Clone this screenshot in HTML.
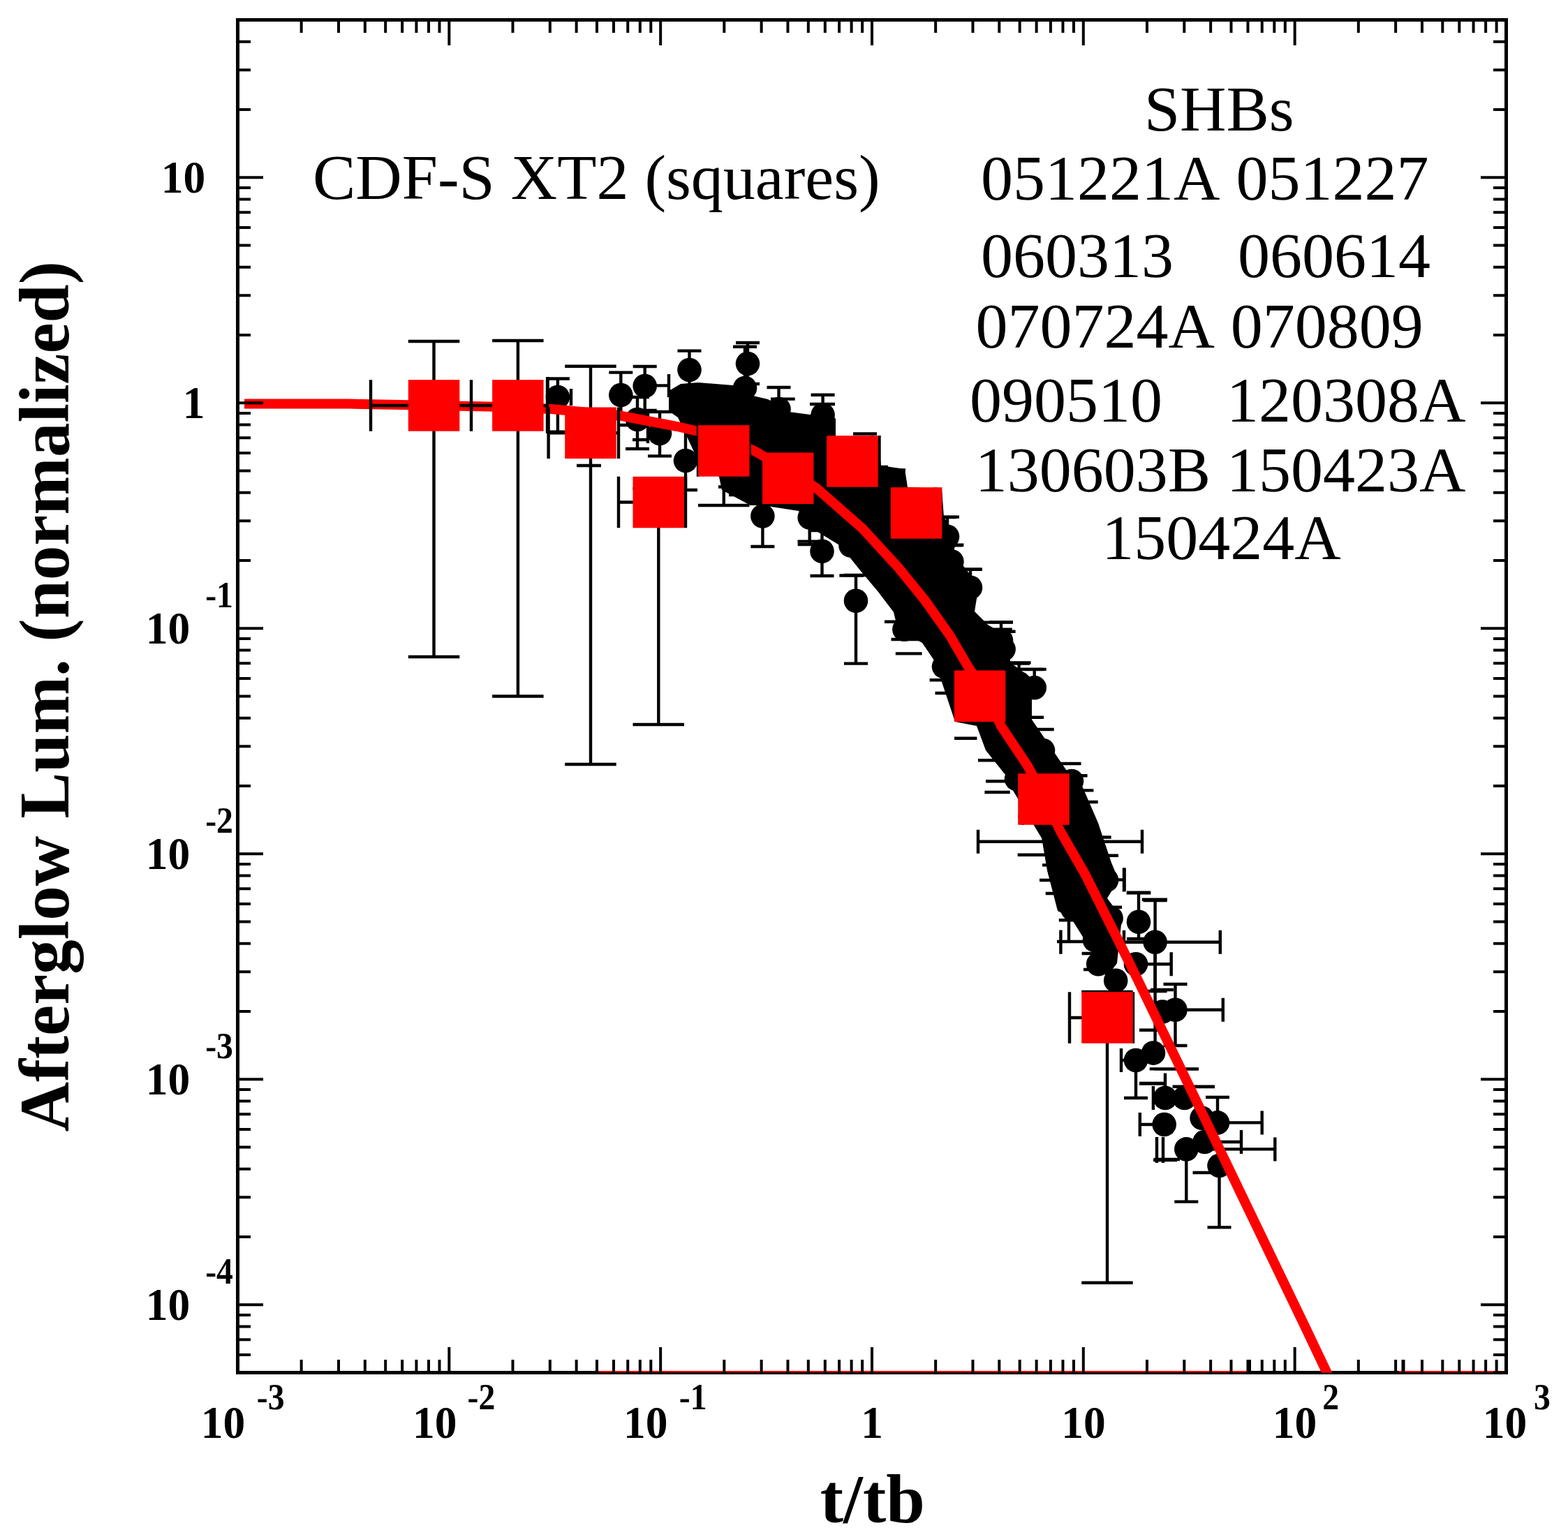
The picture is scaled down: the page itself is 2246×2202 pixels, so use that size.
<!DOCTYPE html>
<html><head><meta charset="utf-8"><title>Afterglow luminosity plot</title>
<style>html,body{margin:0;padding:0;background:#fff;overflow:hidden;}svg{display:block;}</style></head>
<body><svg width="2246" height="2202" viewBox="0 0 2246 2202" font-family="'Liberation Serif','Times New Roman',serif">
<rect width="2246" height="2202" fill="#fff"/>
<rect x="340.5" y="28.5" width="1817.0" height="1938.0" fill="none" stroke="#000" stroke-width="5"/>
<defs><clipPath id="pc"><rect x="340.5" y="28.5" width="1817.0" height="1938.0"/></clipPath></defs>
<g clip-path="url(#pc)">
<path d="M1142.5 775.6H1180M1202.4 824.5H1237M1267 890.7H1295M1276.5 916H1333M1282.8 936.4H1320.6M1331.6 974.2H1361.6M1339.5 993H1368M1367 1057.7H1399.4M1401 1089.2H1431M1412 1119.2H1440.4M1410.4 1135H1446.7M1457.7 1224.7H1497M1489 1261H1506.5M1497.7 1280H1516M1493 1239.4H1510M1516.8 1318.2H1552M1531 1319.5V1347M1553.5 1319.5V1347M1514 1349H1555M1519.4 1332.6V1366.8M1549.6 1366H1570M1552 1389H1575M1352 741H1370M1358 781.3H1379M1377 815.7H1405.7M1399.4 891.6H1450.8M1405.7 901.7H1449.8M1450 950.6H1475M1450 959H1495M1478 1027.8H1495M1478 1045H1509.7M1506.5 1094H1548.5M1525.5 1111.3H1557.6M1541 1132.4H1566.4M1541 1149H1572.7M1566.4 1199.5H1591.6M1572.7 1225.7H1601M1613.7 1279.3H1648.4M1635.8 1288.7H1672M1610.6 1243.6V1276.8M1585 1299.8H1607M1585 1225.7H1602M1648 1418H1681M1632 1475.7H1660M1646.7 1531.4H1716.3M1632 1552H1667.8M1712.4 1557H1740M1652 1662H1686M1708.5 1680H1744M1654.6 1349.7V1515M1669 1537.5V1572M1653 1531.5H1717M1632 1552.5H1670M1713 1556.7H1740M1653 1661H1690M1657 1629V1666M1666 1629V1666M1710 1680H1745M939 552.4H958M826 667H861M818 557V581M884 609H899M906 630H927M928 587V635M784.5 540V584M958 536V569M1160 579H1196M1222 621.5H1256M1259.5 624V667M1261 669H1272M1261 673.5H1297M1030 600H1065M1029 697.5H1051M1044 709H1056M1104 571.6H1138.7" stroke="#000" stroke-width="4.4" fill="none"/>
<path d="M798.9 569.0V542.5M781.9 542.5h34.0M798.9 569.0V618.7M781.9 618.7h34.0M889.3 566.0V533.6M872.3 533.6h34.0M889.3 566.0V600.0M872.3 600.0h34.0M923.7 553.0V525.0M906.7 525.0h34.0M923.7 553.0V588.0M906.7 588.0h34.0M913.0 601.0V569.0M896.0 569.0h34.0M913.0 601.0V643.0M896.0 643.0h34.0M945.0 621.0V590.0M928.0 590.0h34.0M945.0 621.0V653.4M928.0 653.4h34.0M987.5 530.0V502.6M970.5 502.6h34.0M987.5 530.0V560.0M970.5 560.0h34.0M982.0 660.0V609.0M965.0 609.0h34.0M982.0 660.0V702.0M965.0 702.0h34.0M1071.0 521.0V491.0M1054.0 491.0h34.0M1071.0 521.0V550.0M1054.0 550.0h34.0M1067.0 556.0V496.8M1050.0 496.8h34.0M1067.0 556.0V590.0M1050.0 590.0h34.0M1115.5 586.0V555.0M1098.5 555.0h34.0M1115.5 586.0V620.0M1098.5 620.0h34.0M1178.6 594.5V565.7M1161.6 565.7h34.0M1178.6 594.5V630.0M1161.6 630.0h34.0M1092.4 739.4V700.0M1075.4 700.0h34.0M1092.4 739.4V783.0M1075.4 783.0h34.0M1159.7 741.5V710.0M1142.7 710.0h34.0M1159.7 741.5V780.0M1142.7 780.0h34.0M1177.5 789.8V760.0M1160.5 760.0h34.0M1177.5 789.8V825.0M1160.5 825.0h34.0M1226.0 860.7V824.0M1209.0 824.0h34.0M1226.0 860.7V950.6M1209.0 950.6h34.0M1357.0 768.8V740.6M1340.0 740.6h34.0M1363.4 804.5V780.8M1346.4 780.8h34.0M1390.0 841.8V815.8M1373.0 815.8h34.0M1434.0 917.5V891.4M1417.0 891.4h34.0M1437.6 930.0V904.8M1420.6 904.8h34.0M1459.6 978.9V949.4M1442.6 949.4h34.0M1481.7 985.2V958.9M1464.7 958.9h34.0M1631.0 1320.8V1278.8M1614.0 1278.8h34.0M1631.0 1320.8V1345.0M1614.0 1345.0h34.0M1654.6 1349.7V1290.0M1637.6 1290.0h34.0M1654.6 1349.7V1420.0M1637.6 1420.0h34.0M1654.6 1349.7H1610.0M1610.0 1332.7v34.0M1654.6 1349.7H1747.8M1747.8 1332.7v34.0M1627.0 1381.2H1677.7M1677.7 1364.2v34.0M1583.7 1260.4H1610.0M1610.0 1243.4v34.0M1683.5 1446.8V1410.0M1666.5 1410.0h34.0M1683.5 1446.8V1498.0M1666.5 1498.0h34.0M1683.5 1446.8H1751.8M1751.8 1429.8v34.0M1627.0 1519.0V1573.0M1610.0 1573.0h34.0M1627.0 1519.0H1606.0M1606.0 1502.0v34.0M1669.0 1572.9H1651.9M1651.9 1555.9v34.0M1696.6 1572.9V1556.7M1679.6 1556.7h34.0M1667.7 1611.0H1632.8M1632.8 1594.0v34.0M1744.0 1608.4V1572.0M1727.0 1572.0h34.0M1744.0 1608.4H1807.7M1807.7 1591.4v34.0M1725.5 1636.0H1778.0M1778.0 1619.0v34.0M1699.3 1646.4V1721.6M1682.3 1721.6h34.0M1699.3 1646.4H1826.3M1826.3 1629.4v34.0M1746.5 1670.0V1758.4M1729.5 1758.4h34.0M1515.0 1205.8H1401.0M1401.0 1188.8v34.0M1515.0 1205.8H1636.0M1636.0 1188.8v34.0" stroke="#000" stroke-width="4.4" fill="none"/>
<polygon points="958,560 975,550 1000,548 1050,552 1070,565 1100,572 1130,590 1160,594 1180,585 1197,600 1197,625 1258,630 1262,667 1296,672 1300,698 1349,700 1352,741 1371,769 1365,795 1377,807 1402,839 1396,876 1415,895 1447,914 1447,949 1494,984 1478,1002 1478,1031 1506,1072 1532,1110 1547,1119 1573,1179 1592,1236 1602,1260 1586,1287 1607,1315 1600,1380 1585,1400 1554,1347 1534,1315 1515,1305 1500,1247 1492,1200 1494,1204 1447,1126 1440,1110 1412,1075 1399,1040 1368,1034 1346,968 1340,949 1321,921 1286,902 1280,877 1258,848 1232,817 1204,782 1163,757 1144,732 1092,724 1075,724 1034,702 1030,683 1000,660 971,598 958,589" fill="#000"/>
<g fill="#000"><circle cx="798.9" cy="569.0" r="17.3"/><circle cx="889.3" cy="566.0" r="17.3"/><circle cx="923.7" cy="553.0" r="17.3"/><circle cx="913.0" cy="601.0" r="17.3"/><circle cx="945.0" cy="621.0" r="17.3"/><circle cx="987.5" cy="530.0" r="17.3"/><circle cx="982.0" cy="660.0" r="17.3"/><circle cx="1071.0" cy="521.0" r="17.3"/><circle cx="1067.0" cy="556.0" r="17.3"/><circle cx="1115.5" cy="586.0" r="17.3"/><circle cx="1178.6" cy="594.5" r="17.3"/><circle cx="1092.4" cy="739.4" r="17.3"/><circle cx="1159.7" cy="741.5" r="17.3"/><circle cx="1177.5" cy="789.8" r="17.3"/><circle cx="1218.5" cy="781.4" r="17.3"/><circle cx="1226.0" cy="860.7" r="17.3"/><circle cx="1295.4" cy="901.7" r="17.3"/><circle cx="1281.5" cy="693.2" r="17.3"/><circle cx="1357.0" cy="768.8" r="17.3"/><circle cx="1363.4" cy="804.5" r="17.3"/><circle cx="1352.0" cy="955.0" r="17.3"/><circle cx="1390.0" cy="841.8" r="17.3"/><circle cx="1434.0" cy="917.5" r="17.3"/><circle cx="1437.6" cy="930.0" r="17.3"/><circle cx="1459.6" cy="978.9" r="17.3"/><circle cx="1481.7" cy="985.2" r="17.3"/><circle cx="1427.8" cy="1062.4" r="17.3"/><circle cx="1494.0" cy="1075.0" r="17.3"/><circle cx="1456.0" cy="1116.0" r="17.3"/><circle cx="1535.0" cy="1119.0" r="17.3"/><circle cx="1553.8" cy="1182.0" r="17.3"/><circle cx="1516.0" cy="1235.8" r="17.3"/><circle cx="1585.0" cy="1261.0" r="17.3"/><circle cx="1023.0" cy="569.0" r="17.3"/><circle cx="1631.0" cy="1320.8" r="17.3"/><circle cx="1654.6" cy="1349.7" r="17.3"/><circle cx="1627.0" cy="1381.2" r="17.3"/><circle cx="1598.2" cy="1404.8" r="17.3"/><circle cx="1573.2" cy="1381.2" r="17.3"/><circle cx="1568.0" cy="1347.0" r="17.3"/><circle cx="1591.6" cy="1315.5" r="17.3"/><circle cx="1536.5" cy="1302.4" r="17.3"/><circle cx="1518.0" cy="1247.3" r="17.3"/><circle cx="1583.7" cy="1260.4" r="17.3"/><circle cx="1568.0" cy="1234.0" r="17.3"/><circle cx="1683.5" cy="1446.8" r="17.3"/><circle cx="1665.0" cy="1449.5" r="17.3"/><circle cx="1652.0" cy="1508.6" r="17.3"/><circle cx="1627.0" cy="1519.0" r="17.3"/><circle cx="1669.0" cy="1572.9" r="17.3"/><circle cx="1696.6" cy="1572.9" r="17.3"/><circle cx="1667.7" cy="1611.0" r="17.3"/><circle cx="1721.6" cy="1601.8" r="17.3"/><circle cx="1744.0" cy="1608.4" r="17.3"/><circle cx="1725.5" cy="1636.0" r="17.3"/><circle cx="1699.3" cy="1646.4" r="17.3"/><circle cx="1746.5" cy="1670.0" r="17.3"/><circle cx="1515.0" cy="1205.8" r="17.3"/></g>
<polyline points="350,578.5 500,578.6 600,580.5 700,582.5 790,586 886,595 970,611 1000,618 1040,630 1079,645 1110,663 1140,680 1169.3,699.2 1235.5,757.2 1286.7,813.1 1324.5,859.6 1360.8,910.8 1386,954.1 1410,990 1434,1040.4 1471.9,1097.1 1495,1140 1519.2,1191.6 1553.8,1251.5 1598.7,1341 1627.9,1400 1686,1520 1739,1630 1791.9,1740 1869,1900 1900.6,1966.5 1913,1992" fill="none" stroke="#f00" stroke-width="14" stroke-linejoin="miter"/>
<path d="M621.5 489.0V941.0M584.8 489.0h73.5M584.8 941.0h73.5M531.0 581.0H675.0M531.0 544.2v73.5M675.0 544.2v73.5M741.9 488.0V997.5M705.1 488.0h73.5M705.1 997.5h73.5M675.0 581.0H784.0M675.0 544.2v73.5M784.0 544.2v73.5M846.0 524.8V1095.0M809.2 524.8h73.5M809.2 1095.0h73.5M785.6 620.2H886.0M785.6 583.5v73.5M886.0 583.5v73.5M943.3 700.0V1038.0M906.5 700.0h73.5M906.5 1038.0h73.5M886.0 719.5H982.0M886.0 682.8v73.5M982.0 682.8v73.5M1036.8 600.0V724.0M1000.0 600.0h73.5M1000.0 724.0h73.5M1000.0 646.0H1073.6M1000.0 609.2v73.5M1073.6 609.2v73.5M1128.7 660.0V710.0M1092.0 660.0h73.5M1092.0 710.0h73.5M1100.0 685.3H1160.0M1100.0 648.5v73.5M1160.0 648.5v73.5M1221.0 640.0V690.0M1184.2 640.0h73.5M1184.2 690.0h73.5M1190.0 661.0H1250.0M1190.0 624.2v73.5M1250.0 624.2v73.5M1312.6 710.0V760.0M1275.8 710.0h73.5M1275.8 760.0h73.5M1285.0 735.0H1340.0M1285.0 698.2v73.5M1340.0 698.2v73.5M1403.5 970.0V1020.0M1366.8 970.0h73.5M1366.8 1020.0h73.5M1375.0 997.2H1430.0M1375.0 960.5v73.5M1430.0 960.5v73.5M1495.0 1120.0V1170.0M1458.2 1120.0h73.5M1458.2 1170.0h73.5M1465.0 1145.0H1525.0M1465.0 1108.2v73.5M1525.0 1108.2v73.5M1586.0 1421.0V1837.8M1549.2 1421.0h73.5M1549.2 1837.8h73.5M1532.0 1458.0H1623.0M1532.0 1421.2v73.5M1623.0 1421.2v73.5" stroke="#000" stroke-width="4.4" fill="none"/>
<g fill="#f00"><rect x="584.8" y="544.2" width="73.5" height="73.5"/><rect x="705.1" y="544.2" width="73.5" height="73.5"/><rect x="809.2" y="583.5" width="73.5" height="73.5"/><rect x="906.5" y="682.8" width="73.5" height="73.5"/><rect x="1000.0" y="609.2" width="73.5" height="73.5"/><rect x="1092.0" y="648.5" width="73.5" height="73.5"/><rect x="1184.2" y="624.2" width="73.5" height="73.5"/><rect x="1275.8" y="698.2" width="73.5" height="73.5"/><rect x="1366.8" y="960.5" width="73.5" height="73.5"/><rect x="1458.2" y="1108.2" width="73.5" height="73.5"/><rect x="1549.2" y="1421.2" width="73.5" height="73.5"/></g>
<path d="M857.8 1965H1786M2004 1965H2157.5" stroke="#f00" stroke-width="2.2" fill="none"/>
<path d="M1789.5 1966.5V1948M2010 1966.5V1948" stroke="#000" stroke-width="5" fill="none"/>
</g>
<path d="M340.50 1966.5v-36.5M340.50 28.5v36.5M431.66 1966.5v-18.5M431.66 28.5v18.5M484.99 1966.5v-18.5M484.99 28.5v18.5M522.82 1966.5v-18.5M522.82 28.5v18.5M552.17 1966.5v-18.5M552.17 28.5v18.5M576.15 1966.5v-18.5M576.15 28.5v18.5M596.42 1966.5v-18.5M596.42 28.5v18.5M613.98 1966.5v-18.5M613.98 28.5v18.5M629.47 1966.5v-18.5M629.47 28.5v18.5M643.33 1966.5v-36.5M643.33 28.5v36.5M734.49 1966.5v-18.5M734.49 28.5v18.5M787.82 1966.5v-18.5M787.82 28.5v18.5M825.65 1966.5v-18.5M825.65 28.5v18.5M855.00 1966.5v-18.5M855.00 28.5v18.5M878.98 1966.5v-18.5M878.98 28.5v18.5M899.25 1966.5v-18.5M899.25 28.5v18.5M916.81 1966.5v-18.5M916.81 28.5v18.5M932.30 1966.5v-18.5M932.30 28.5v18.5M946.16 1966.5v-36.5M946.16 28.5v36.5M1037.32 1966.5v-18.5M1037.32 28.5v18.5M1090.65 1966.5v-18.5M1090.65 28.5v18.5M1128.48 1966.5v-18.5M1128.48 28.5v18.5M1157.83 1966.5v-18.5M1157.83 28.5v18.5M1181.81 1966.5v-18.5M1181.81 28.5v18.5M1202.08 1966.5v-18.5M1202.08 28.5v18.5M1219.64 1966.5v-18.5M1219.64 28.5v18.5M1235.13 1966.5v-18.5M1235.13 28.5v18.5M1248.99 1966.5v-36.5M1248.99 28.5v36.5M1340.15 1966.5v-18.5M1340.15 28.5v18.5M1393.48 1966.5v-18.5M1393.48 28.5v18.5M1431.31 1966.5v-18.5M1431.31 28.5v18.5M1460.66 1966.5v-18.5M1460.66 28.5v18.5M1484.64 1966.5v-18.5M1484.64 28.5v18.5M1504.91 1966.5v-18.5M1504.91 28.5v18.5M1522.47 1966.5v-18.5M1522.47 28.5v18.5M1537.96 1966.5v-18.5M1537.96 28.5v18.5M1551.82 1966.5v-36.5M1551.82 28.5v36.5M1642.98 1966.5v-18.5M1642.98 28.5v18.5M1696.31 1966.5v-18.5M1696.31 28.5v18.5M1734.14 1966.5v-18.5M1734.14 28.5v18.5M1763.49 1966.5v-18.5M1763.49 28.5v18.5M1787.47 1966.5v-18.5M1787.47 28.5v18.5M1807.74 1966.5v-18.5M1807.74 28.5v18.5M1825.30 1966.5v-18.5M1825.30 28.5v18.5M1840.79 1966.5v-18.5M1840.79 28.5v18.5M1854.65 1966.5v-36.5M1854.65 28.5v36.5M1945.81 1966.5v-18.5M1945.81 28.5v18.5M1999.14 1966.5v-18.5M1999.14 28.5v18.5M2036.97 1966.5v-18.5M2036.97 28.5v18.5M2066.32 1966.5v-18.5M2066.32 28.5v18.5M2090.30 1966.5v-18.5M2090.30 28.5v18.5M2110.57 1966.5v-18.5M2110.57 28.5v18.5M2128.13 1966.5v-18.5M2128.13 28.5v18.5M2143.62 1966.5v-18.5M2143.62 28.5v18.5M2157.48 1966.5v-36.5M2157.48 28.5v36.5M340.5 1966.50h18.5M2157.5 1966.50h-18.5M340.5 1940.92h18.5M2157.5 1940.92h-18.5M340.5 1919.30h18.5M2157.5 1919.30h-18.5M340.5 1900.57h18.5M2157.5 1900.57h-18.5M340.5 1884.05h18.5M2157.5 1884.05h-18.5M340.5 1869.27h36.5M2157.5 1869.27h-36.5M340.5 1772.03h18.5M2157.5 1772.03h-18.5M340.5 1715.16h18.5M2157.5 1715.16h-18.5M340.5 1674.80h18.5M2157.5 1674.80h-18.5M340.5 1643.50h18.5M2157.5 1643.50h-18.5M340.5 1617.92h18.5M2157.5 1617.92h-18.5M340.5 1596.30h18.5M2157.5 1596.30h-18.5M340.5 1577.57h18.5M2157.5 1577.57h-18.5M340.5 1561.05h18.5M2157.5 1561.05h-18.5M340.5 1546.27h36.5M2157.5 1546.27h-36.5M340.5 1449.03h18.5M2157.5 1449.03h-18.5M340.5 1392.16h18.5M2157.5 1392.16h-18.5M340.5 1351.80h18.5M2157.5 1351.80h-18.5M340.5 1320.50h18.5M2157.5 1320.50h-18.5M340.5 1294.92h18.5M2157.5 1294.92h-18.5M340.5 1273.30h18.5M2157.5 1273.30h-18.5M340.5 1254.57h18.5M2157.5 1254.57h-18.5M340.5 1238.05h18.5M2157.5 1238.05h-18.5M340.5 1223.27h36.5M2157.5 1223.27h-36.5M340.5 1126.03h18.5M2157.5 1126.03h-18.5M340.5 1069.16h18.5M2157.5 1069.16h-18.5M340.5 1028.80h18.5M2157.5 1028.80h-18.5M340.5 997.50h18.5M2157.5 997.50h-18.5M340.5 971.92h18.5M2157.5 971.92h-18.5M340.5 950.30h18.5M2157.5 950.30h-18.5M340.5 931.57h18.5M2157.5 931.57h-18.5M340.5 915.05h18.5M2157.5 915.05h-18.5M340.5 900.27h36.5M2157.5 900.27h-36.5M340.5 803.03h18.5M2157.5 803.03h-18.5M340.5 746.16h18.5M2157.5 746.16h-18.5M340.5 705.80h18.5M2157.5 705.80h-18.5M340.5 674.50h18.5M2157.5 674.50h-18.5M340.5 648.92h18.5M2157.5 648.92h-18.5M340.5 627.30h18.5M2157.5 627.30h-18.5M340.5 608.57h18.5M2157.5 608.57h-18.5M340.5 592.05h18.5M2157.5 592.05h-18.5M340.5 577.27h36.5M2157.5 577.27h-36.5M340.5 480.03h18.5M2157.5 480.03h-18.5M340.5 423.16h18.5M2157.5 423.16h-18.5M340.5 382.80h18.5M2157.5 382.80h-18.5M340.5 351.50h18.5M2157.5 351.50h-18.5M340.5 325.92h18.5M2157.5 325.92h-18.5M340.5 304.30h18.5M2157.5 304.30h-18.5M340.5 285.57h18.5M2157.5 285.57h-18.5M340.5 269.05h18.5M2157.5 269.05h-18.5M340.5 254.27h36.5M2157.5 254.27h-36.5M340.5 157.03h18.5M2157.5 157.03h-18.5M340.5 100.16h18.5M2157.5 100.16h-18.5M340.5 59.80h18.5M2157.5 59.80h-18.5M340.5 28.50h18.5M2157.5 28.50h-18.5" stroke="#000" stroke-width="4" fill="none"/>
<g fill="#000"><text transform="translate(287.82,2060.30) scale(0.969,1)" font-size="65.5" font-weight="bold">10</text><text transform="translate(367.85,2019.20) scale(0.9,1)" font-size="53" font-weight="bold">-3</text><text transform="translate(591.12,2060.30) scale(0.969,1)" font-size="65.5" font-weight="bold">10</text><text transform="translate(669.55,2019.20) scale(0.9,1)" font-size="53" font-weight="bold">-2</text><text transform="translate(892.92,2060.30) scale(0.969,1)" font-size="65.5" font-weight="bold">10</text><text transform="translate(972.85,2019.20) scale(0.9,1)" font-size="53" font-weight="bold">-1</text><text transform="translate(1233.22,2060.30) scale(0.969,1)" font-size="65.5" font-weight="bold">1</text><text transform="translate(1520.32,2060.30) scale(0.969,1)" font-size="65.5" font-weight="bold">10</text><text transform="translate(1822.82,2060.30) scale(0.969,1)" font-size="65.5" font-weight="bold">10</text><text transform="translate(1894.20,2019.20) scale(0.9,1)" font-size="53" font-weight="bold">2</text><text transform="translate(2123.82,2060.30) scale(0.969,1)" font-size="65.5" font-weight="bold">10</text><text transform="translate(2196.91,2019.20) scale(0.9,1)" font-size="53" font-weight="bold">3</text><text transform="translate(208.82,1890.77) scale(0.969,1)" font-size="65.5" font-weight="bold">10</text><text transform="translate(294.15,1838.77) scale(0.9,1)" font-size="53" font-weight="bold">-4</text><text transform="translate(208.82,1567.77) scale(0.969,1)" font-size="65.5" font-weight="bold">10</text><text transform="translate(294.15,1515.77) scale(0.9,1)" font-size="53" font-weight="bold">-3</text><text transform="translate(208.82,1244.77) scale(0.969,1)" font-size="65.5" font-weight="bold">10</text><text transform="translate(294.15,1192.77) scale(0.9,1)" font-size="53" font-weight="bold">-2</text><text transform="translate(208.82,921.77) scale(0.969,1)" font-size="65.5" font-weight="bold">10</text><text transform="translate(294.15,869.77) scale(0.9,1)" font-size="53" font-weight="bold">-1</text><text transform="translate(261.82,598.77) scale(0.969,1)" font-size="65.5" font-weight="bold">1</text><text transform="translate(230.72,275.77) scale(0.969,1)" font-size="65.5" font-weight="bold">10</text></g>
<g fill="#000"><text x="448.0" y="285.0" font-size="92" font-weight="normal" >CDF-S XT2 (squares)</text><text x="1638.9" y="186.6" font-size="92" font-weight="normal" >SHBs</text><text x="1405.1" y="286.0" font-size="92" font-weight="normal" >051221A&#160;051227</text><text x="1405.1" y="397.0" font-size="92" font-weight="normal" >060313&#160;&#160;&#160;&#160;060614</text><text x="1397.4" y="497.6" font-size="92" font-weight="normal" >070724A&#160;070809</text><text x="1388.9" y="603.6" font-size="92" font-weight="normal" >090510&#160;&#160;&#160;&#160;120308A</text><text x="1396.7" y="704.0" font-size="92" font-weight="normal" >130603B&#160;150423A</text><text x="1578.2" y="800.6" font-size="92" font-weight="normal" >150424A</text><text x="1174.8" y="2181.0" font-size="100" font-weight="bold" >t/tb</text><text transform="translate(97.7,1621.5) rotate(-90) scale(0.972,1)" font-size="102" font-weight="bold">Afterglow Lum. (normalized)</text></g>
</svg></body></html>
